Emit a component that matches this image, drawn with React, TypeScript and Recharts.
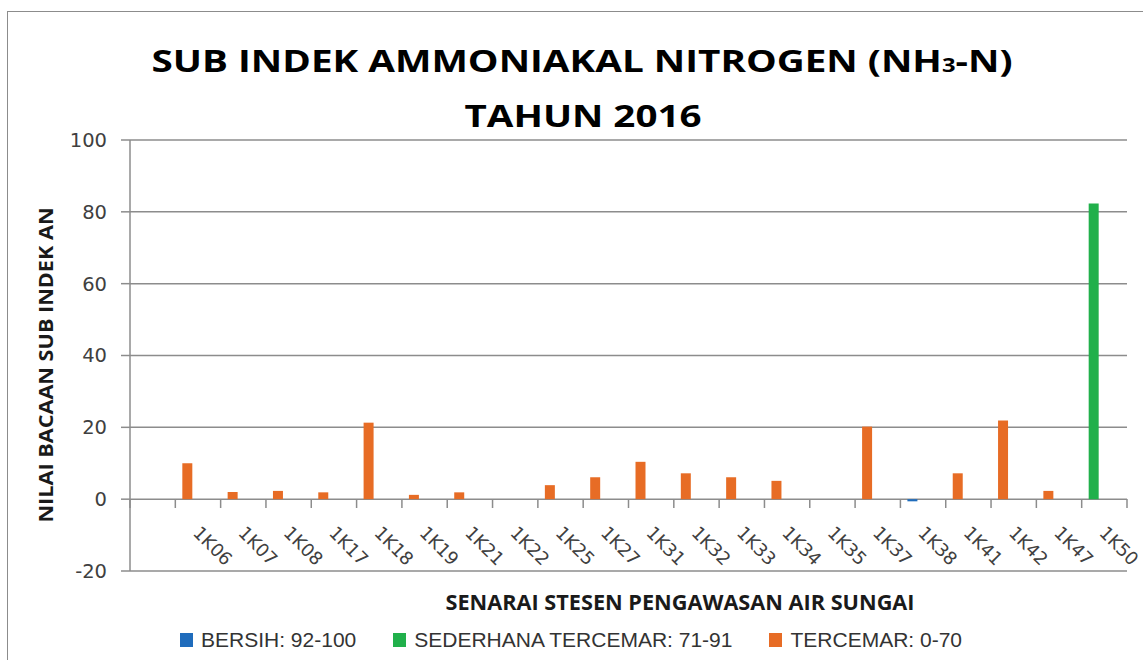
import { Bar, BarChart, CartesianGrid, XAxis, YAxis } from "recharts";

const stations = [
	"", "1K06", "1K07", "1K08", "1K17", "1K18", "1K19", "1K21", "1K22", "1K25", "1K27",
	"1K31", "1K32", "1K33", "1K34", "1K35", "1K37", "1K38", "1K41", "1K42", "1K47", "1K50",
];

// BERSIH: 92-100
const bersih = [
	null, null, null, null, null, null, null, null, null, null, null,
	null, null, null, null, null, null, -0.6, null, null, null, null,
];

// SEDERHANA TERCEMAR: 71-91
const sederhana = [
	null, null, null, null, null, null, null, null, null, null, null,
	null, null, null, null, null, null, null, null, null, null, 82.3,
];

// TERCEMAR: 0-70
const tercemar = [
	null, 10, 2, 2.3, 1.9, 21.3, 1.2, 1.9, null, 3.9, 6.1,
	10.4, 7.2, 6.1, 5.1, null, 20.2, null, 7.2, 21.9, 2.3, null,
];

const yTicks = [-20, 0, 20, 40, 60, 80, 100];

const series = [
	{ key: "bersih", name: "BERSIH: 92-100", color: "#1f6cbc" },
	{ key: "sederhana", name: "SEDERHANA TERCEMAR: 71-91", color: "#21b04b" },
	{ key: "tercemar", name: "TERCEMAR: 0-70", color: "#e76c25" },
];

const data = stations.map((station, i) => ({
	station,
	bersih: bersih[i],
	sederhana: sederhana[i],
	tercemar: tercemar[i],
}));

const W = 1143;
const H = 660;
const GRID = "#8c8c8c";
const TICK_LEN = 9;
const LABEL_GAP = 26;

// category labels sit below the zero line, tick marks go on the band edges
function StationTick(props: any) {
	const { x, y, payload, index, visibleTicksCount } = props;
	const half = payload.offset ?? 0;
	const axisY = y - LABEL_GAP - TICK_LEN;
	const tx = x - 6;
	return (
		<g>
			<line x1={x - half} x2={x - half} y1={axisY} y2={axisY + TICK_LEN} stroke={GRID} strokeWidth={1.5} />
			{index === visibleTicksCount - 1 && (
				<line x1={x + half} x2={x + half} y1={axisY} y2={axisY + TICK_LEN} stroke={GRID} strokeWidth={1.5} />
			)}
			<text
				x={tx}
				y={y}
				transform={`rotate(45 ${tx} ${y})`}
				textAnchor="start"
				fontFamily="DejaVu Sans"
				fontSize={18}
				fill="#404040"
			>
				{payload.value}
			</text>
		</g>
	);
}

export default function App() {
	return (
		<div style={{ position: "absolute", left: 0, top: 0, width: W, height: H, overflow: "hidden", background: "#fff" }}>
			<div
				style={{
					position: "absolute",
					left: 7,
					top: 11,
					width: 1300,
					height: 800,
					borderLeft: `1.5px solid ${GRID}`,
					borderTop: `1.5px solid ${GRID}`,
				}}
			/>

			<div style={{ position: "absolute", left: 0, top: 0 }}>
				<BarChart width={W} height={H} data={data} margin={{ top: 140, right: 16, bottom: 89, left: 70 }} barGap={11}>
					<CartesianGrid vertical={false} stroke={GRID} strokeWidth={1.5} />
					<XAxis dataKey="station" hide />
					<YAxis
						width={60}
						domain={[-20, 100]}
						ticks={yTicks}
						interval={0}
						tickSize={TICK_LEN}
						tickMargin={14}
						axisLine={{ stroke: GRID, strokeWidth: 1.5 }}
						tickLine={{ stroke: GRID, strokeWidth: 1.5 }}
						tick={{ fontFamily: "DejaVu Sans", fontSize: 19.5, fill: "#404040" }}
					/>
					{series.map((s) => (
						<Bar
							key={s.key}
							dataKey={s.key}
							name={s.name}
							stackId="grade"
							fill={s.color}
							barSize={10}
							isAnimationActive={false}
						/>
					))}
					<Bar dataKey="spacer" stackId="spacer" barSize={10} fill="none" legendType="none" isAnimationActive={false} />
				</BarChart>
			</div>

			<div style={{ position: "absolute", left: 0, top: 0, pointerEvents: "none" }}>
				<BarChart width={W} height={H} data={data} margin={{ top: 140, right: 16, bottom: 101, left: 130 }}>
					<XAxis
						dataKey="station"
						height={60}
						interval={0}
						axisLine={false}
						tickLine={false}
						tickSize={TICK_LEN}
						tickMargin={LABEL_GAP}
						tick={<StationTick />}
					/>
				</BarChart>
			</div>

			<svg width={W} height={H} style={{ position: "absolute", left: 0, top: 0, pointerEvents: "none" }}>
				<text
					x={582}
					y={72}
					textAnchor="middle"
					fontFamily="Open Sans"
					fontWeight={700}
					fontSize={31}
					fill="#000"
					textLength={861}
					lengthAdjust="spacingAndGlyphs"
				>
					SUB INDEK AMMONIAKAL NITROGEN (NH<tspan fontSize={19}>3</tspan>-N)
				</text>
				<text
					x={583}
					y={127}
					textAnchor="middle"
					fontFamily="Open Sans"
					fontWeight={700}
					fontSize={31}
					fill="#000"
					textLength={237}
					lengthAdjust="spacingAndGlyphs"
				>
					TAHUN 2016
				</text>
				<text
					x={45}
					y={365}
					transform="rotate(-90 45 365)"
					textAnchor="middle"
					dominantBaseline="central"
					fontFamily="Open Sans"
					fontWeight={700}
					fontSize={20}
					fill="#1a1a1a"
					textLength={315}
					lengthAdjust="spacingAndGlyphs"
				>
					NILAI BACAAN SUB INDEK AN
				</text>
				<text
					x={680}
					y={610}
					textAnchor="middle"
					fontFamily="Open Sans"
					fontWeight={700}
					fontSize={21}
					fill="#1a1a1a"
					textLength={469}
					lengthAdjust="spacingAndGlyphs"
				>
					SENARAI STESEN PENGAWASAN AIR SUNGAI
				</text>
			</svg>

			<div
				style={{
					position: "absolute",
					left: 180,
					top: 628,
					display: "flex",
					alignItems: "center",
					gap: 37,
					fontFamily: "Liberation Sans",
					fontSize: 21,
					color: "#333",
					whiteSpace: "nowrap",
				}}
			>
				{series.map((s) => (
					<div key={s.key} style={{ display: "flex", alignItems: "center", gap: 8 }}>
						<span style={{ display: "inline-block", width: 13, height: 14, background: s.color }} />
						<span>{s.name}</span>
					</div>
				))}
			</div>
		</div>
	);
}
